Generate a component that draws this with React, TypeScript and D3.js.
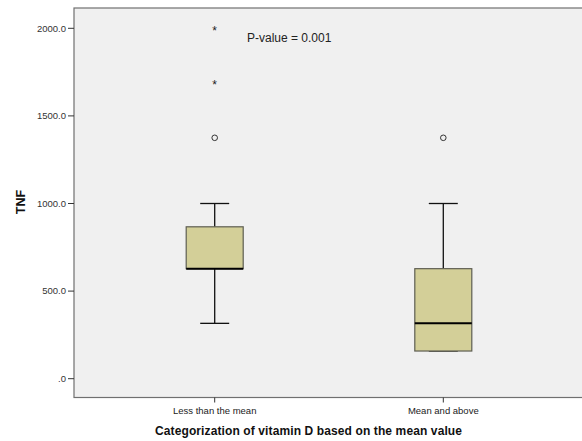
import React from "react";
import * as d3 from "d3";

const categories = ["Less than the mean", "Mean and above"];
const whiskerLow = [316, 158];
const q1 = [628, 158];
const medians = [628, 316];
const q3 = [867, 628];
const whiskerHigh = [1000, 1000];
const circleOutliers = [[1375], [1375]];
const starOutliers = [[1690, 2000], []];
const yTicks = [0, 500, 1000, 1500, 2000];
const pValueText = "P-value = 0.001";

export default function App() {
  const W = 582, H = 441;
  const left = 74, top = 8, bottom = 397.5;
  const y = d3.scaleLinear().domain([0, 2000]).range([378.7, 28.3]);
  const x = d3.scalePoint<string>().domain(categories).range([214.7, 443.3]);
  const boxW = 57;
  const capW = 29;
  const fmt = (v: number) => (v === 0 ? ".0" : d3.format(".1f")(v));

  return (
    <svg width={W} height={H} style={{ position: "absolute", left: 0, top: 0, background: "#fff" }}>
      <rect x={left} y={top} width={W - left + 2} height={bottom - top} fill="#f0f0f0" stroke="#707070" strokeWidth={1.2} />
      {yTicks.map((t) => (
        <g key={t}>
          <line x1={left - 6} x2={left} y1={y(t)} y2={y(t)} stroke="#333" strokeWidth={1} />
          <text x={left - 8} y={y(t)} dy="0.35em" textAnchor="end" fontFamily="Liberation Sans, Arial, sans-serif" fontSize={9.5} fill="#333">
            {fmt(t)}
          </text>
        </g>
      ))}
      {categories.map((c, i) => {
        const cx = x(c)!;
        return (
          <g key={c}>
            <line x1={cx} x2={cx} y1={bottom} y2={bottom + 5} stroke="#333" />
            <text x={cx} y={411} dy="0.35em" textAnchor="middle" fontFamily="Liberation Sans, Arial, sans-serif" fontSize={9.5} fill="#222">
              {c}
            </text>
            <line x1={cx} x2={cx} y1={y(whiskerHigh[i])} y2={y(q3[i])} stroke="#111" strokeWidth={1.3} />
            <line x1={cx} x2={cx} y1={y(q1[i])} y2={y(whiskerLow[i])} stroke="#111" strokeWidth={1.3} />
            <line x1={cx - capW / 2} x2={cx + capW / 2} y1={y(whiskerHigh[i])} y2={y(whiskerHigh[i])} stroke="#111" strokeWidth={1.3} />
            <line x1={cx - capW / 2} x2={cx + capW / 2} y1={y(whiskerLow[i])} y2={y(whiskerLow[i])} stroke="#111" strokeWidth={1.3} />
            <rect x={cx - boxW / 2} y={y(q3[i])} width={boxW} height={y(q1[i]) - y(q3[i])} fill="#d3cf98" stroke="#5e5e52" strokeWidth={1.2} />
            <line x1={cx - boxW / 2} x2={cx + boxW / 2} y1={y(medians[i])} y2={y(medians[i])} stroke="#000" strokeWidth={2} />
            {circleOutliers[i].map((v, k) => (
              <circle key={"c" + k} cx={cx} cy={y(v)} r={2.8} fill="none" stroke="#333" strokeWidth={1} />
            ))}
            {starOutliers[i].map((v, k) => (
              <text key={"s" + k} x={cx} y={y(v)} dy="0.55em" textAnchor="middle" fontFamily="Liberation Sans, Arial, sans-serif" fontSize={12} fill="#222">
                *
              </text>
            ))}
          </g>
        );
      })}
      <text x={247} y={38} dy="0.35em" fontFamily="Liberation Sans, Arial, sans-serif" fontSize={12} fill="#222">
        {pValueText}
      </text>
      <text transform={`translate(21,202) rotate(-90)`} textAnchor="middle" dy="0.35em" fontFamily="Liberation Sans, Arial, sans-serif" fontWeight="bold" fontSize={12.5} fill="#111">
        TNF
      </text>
      <text x={155} y={431} dy="0.35em" textLength={307} lengthAdjust="spacing" fontFamily="Liberation Sans, Arial, sans-serif" fontWeight="bold" fontSize={12} fill="#111">
        Categorization of vitamin D based on the mean value
      </text>
    </svg>
  );
}
